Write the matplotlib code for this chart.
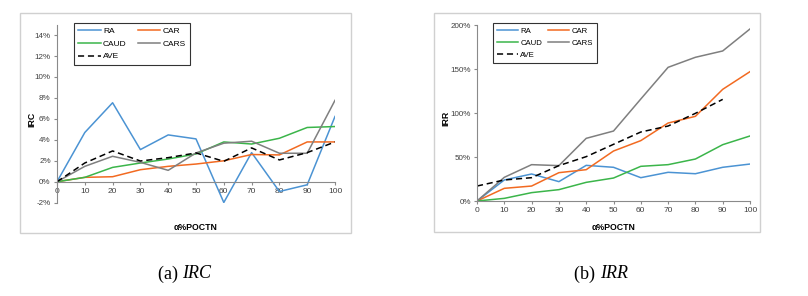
import matplotlib
matplotlib.use("Agg")
import matplotlib.pyplot as plt
from matplotlib.patches import Rectangle
from matplotlib.ticker import FuncFormatter, MultipleLocator

plt.rcParams['font.family'] = ['Liberation Sans', 'DejaVu Sans']

# x axis: alpha % POCTN
alpha = [0, 10, 20, 30, 40, 50, 60, 70, 80, 90, 100]
series_names = ['RA', 'CAR', 'CAUD', 'CARS', 'AVE']

# (a) IRC, in %
irc_ra = [0, 4.7, 7.54, 3.07, 4.47, 4.09, -1.98, 2.78, -0.93, -0.29, 6.23]
irc_car = [0, 0.42, 0.48, 1.15, 1.47, 1.69, 2.0, 2.6, 2.56, 3.8, 3.8]
irc_caud = [0, 0.42, 1.37, 1.79, 2.17, 2.65, 3.8, 3.6, 4.15, 5.18, 5.27]
irc_cars = [0, 1.47, 2.43, 1.85, 1.09, 2.75, 3.68, 3.87, 2.72, 2.72, 7.77]
irc_ave = [0, 1.79, 2.94, 1.98, 2.3, 2.75, 1.95, 3.23, 2.08, 2.78, 3.8]

# (b) IRR, in %
irr_ra = [0, 23.9, 30.7, 22.0, 40.5, 38.3, 26.5, 32.6, 31.0, 38.3, 42.0]
irr_car = [0, 14.4, 17.0, 32.2, 35.6, 56.8, 68.6, 88.6, 96.2, 126.9, 147.0]
irr_caud = [0, 3.0, 9.5, 12.9, 21.2, 26.1, 39.4, 41.3, 47.7, 64.0, 73.9]
irr_cars = [0, 26.9, 41.3, 40.2, 71.2, 79.5, 115.9, 151.9, 163.3, 170.5, 195.5]
irr_ave = [17.0, 23.9, 26.5, 40.2, 50.4, 64.4, 78.4, 85.2, 99.6, 115.5]  # no value at 100

colors = {'RA': '#4B93D3', 'CAR': '#F26A21', 'CAUD': '#3BB54A', 'CARS': '#7F7F7F', 'AVE': 'black'}

W, H = 808, 296
fig = plt.figure(figsize=(W / 100, H / 100), dpi=100)


def px_axes(x0, y0, x1, y1):
    # pixel box (top-left origin) -> figure axes
    return fig.add_axes([x0 / W, 1 - y1 / H, (x1 - x0) / W, (y1 - y0) / H])


def px_box(x0, y0, x1, y1):
    fig.patches.append(Rectangle((x0 / W, 1 - y1 / H), (x1 - x0) / W, (y1 - y0) / H,
                                 transform=fig.transFigure, fill=False,
                                 edgecolor='#D0D0D0', linewidth=1.0))


def draw_panel(ax, data, ylabel, xlab_y, ylab_x, leg_x, leg_size, colspace):
    for name in series_names:
        ys = data[name]
        ls = (0, (4, 2.5)) if name == 'AVE' else '-'
        ax.plot(alpha[:len(ys)], ys, color=colors[name], lw=1.1, ls=ls, label=name)
    for side in ['top', 'right']:
        ax.spines[side].set_visible(False)
    for side in ['left', 'bottom']:
        ax.spines[side].set_color('#8A8A8A')
        ax.spines[side].set_linewidth(0.8)
    ax.spines['bottom'].set_position(('data', 0))
    ax.set_xlim(0, 100)
    ax.xaxis.set_major_locator(MultipleLocator(10))
    ax.yaxis.set_major_formatter(FuncFormatter(lambda v, p: f'{v:.0f}%'))
    ax.tick_params(axis='both', labelsize=6, colors='#8A8A8A', labelcolor='#404040',
                   length=2.5, width=0.8, pad=2)
    ax.tick_params(axis='y', labelsize=5.8)
    ax.set_xlabel('α%POCTN', fontsize=6.3, fontweight='bold')
    ax.set_ylabel(ylabel, fontsize=6.3, fontweight='bold')
    ax.xaxis.set_label_coords(0.5, xlab_y)
    ax.yaxis.set_label_coords(ylab_x, 0.47)
    # row-wise legend order: RA CAR / CAUD CARS / AVE
    handles, labels = ax.get_legend_handles_labels()
    order = [0, 2, 4, 1, 3]
    leg = ax.legend([handles[i] for i in order], [labels[i] for i in order],
                    ncol=2, loc='upper left', bbox_to_anchor=(leg_x, 1.01),
                    borderaxespad=0, fontsize=leg_size, frameon=True, fancybox=False,
                    edgecolor='black', handlelength=2.7, columnspacing=colspace,
                    labelspacing=0.6, handletextpad=0.3, borderpad=0.5)
    leg.get_frame().set_linewidth(0.8)


# (a) IRC
px_box(20, 13, 351, 233)
ax1 = px_axes(57, 24.6, 335, 202.7)
ax1.set_ylim(-2, 15)
ax1.set_yticks(range(-2, 15, 2))
draw_panel(ax1, {'RA': irc_ra, 'CAR': irc_car, 'CAUD': irc_caud, 'CARS': irc_cars, 'AVE': irc_ave},
           'IRC', -0.112, -0.075, 0.061, 6, 1.3)

# (b) IRR
px_box(434, 13, 760, 232)
ax2 = px_axes(477, 25, 750, 201)
ax2.set_ylim(0, 200)
ax2.set_yticks(range(0, 201, 50))
draw_panel(ax2, {'RA': irr_ra, 'CAR': irr_car, 'CAUD': irr_caud, 'CARS': irr_cars, 'AVE': irr_ave},
           'IRR', -0.125, -0.097, 0.059, 5.6, 0.8)

# captions
cap = dict(fontsize=13, family='Liberation Serif', va='center')
fig.text(182 / W, 1 - 274 / H, '(a) ', ha='right', **cap)
fig.text(182 / W, 1 - 274 / H, 'IRC', ha='left', style='italic', **cap)
fig.text(600 / W, 1 - 274 / H, '(b) ', ha='right', **cap)
fig.text(600 / W, 1 - 274 / H, 'IRR', ha='left', style='italic', **cap)

fig.savefig('out.png', dpi=100, facecolor='white')
